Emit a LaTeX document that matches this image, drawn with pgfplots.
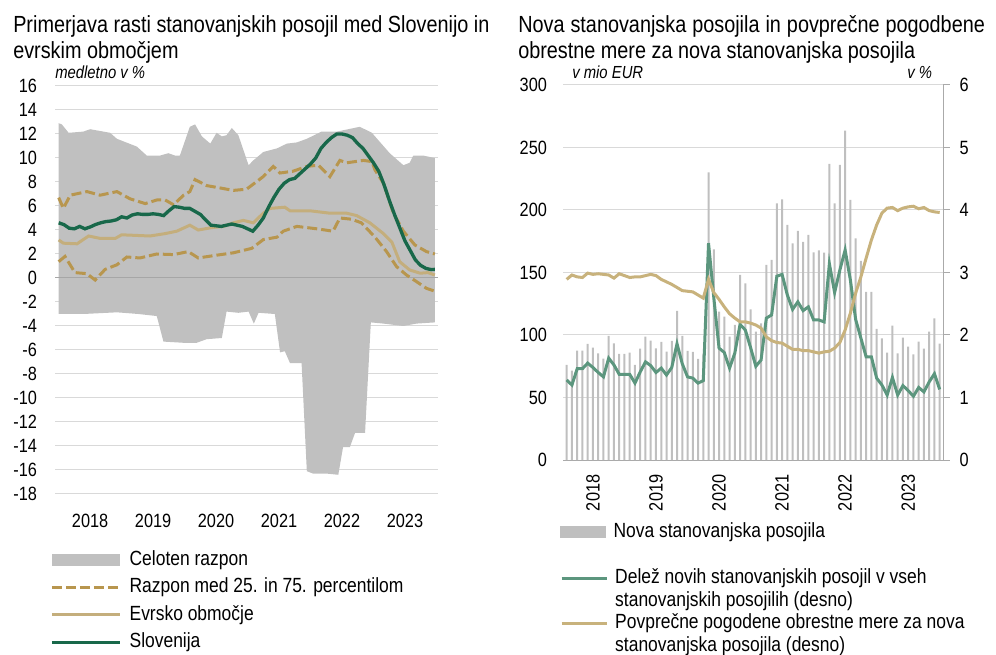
\documentclass[border=0pt]{standalone}
\usepackage{pgfplots}
\pgfplotsset{compat=1.18}
\usepgfplotslibrary{fillbetween}
\usepackage{fontspec}
\setmainfont{Liberation Sans}[FakeStretch=0.85]

\definecolor{areagray}{RGB}{192,192,192}
\definecolor{gridgray}{RGB}{217,217,217}
\definecolor{axisgray}{RGB}{170,170,170}
\definecolor{dashgold}{RGB}{184,150,78}
\definecolor{eurotan}{RGB}{196,174,124}
\definecolor{sigreen}{RGB}{24,104,74}
\definecolor{sharegreen}{RGB}{92,150,126}
\definecolor{ratetan}{RGB}{200,178,124}
\definecolor{bargray}{RGB}{191,191,191}

\newcommand{\tickfont}{\fontsize{14.4}{17}\selectfont}
\newcommand{\legfont}{\fontsize{15.4}{17.25}\selectfont}
\newcommand{\titlefont}{\fontsize{17.5}{19.5}\selectfont}
\newcommand{\unitfont}{\fontsize{13.1}{15}\selectfont\itshape}

\pgfplotsset{
  panel/.style={
    scale only axis,
    /pgf/number format/assume math mode=true,
    tick label style={font=\tickfont},
    major tick length=0pt,
    ymajorgrids,
    grid style={draw=gridgray, line width=0.75pt},
    axis line style={draw=none},
  },
  leg/.style={
    legend style={draw=none, fill=none, inner sep=0pt, column sep=5pt,
      font=\legfont, cells={anchor=base west}},
  },
  lineleg/.style={legend image code/.code={\draw[##1] (0pt,4pt) -- (#1,4pt);}},
  boxleg/.style 2 args={legend image code/.code={\fill[#2] (0pt,-0.5pt) rectangle (#1,8.5pt);}},
}

\begin{document}
\begin{tikzpicture}

% titles
\node[anchor=base west, inner sep=0pt, font=\titlefont] at (9.75pt,-24.75pt) {Primerjava rasti stanovanjskih posojil med Slovenijo in};
\node[anchor=base west, inner sep=0pt, font=\titlefont] at (9.75pt,-44.25pt) {evrskim območjem};
\node[anchor=base west, inner sep=0pt, font=\titlefont] at (388.5pt,-24.75pt) {\makebox[350pt][s]{Nova stanovanjska posojila in povprečne pogodbene}};
\node[anchor=base west, inner sep=0pt, font=\titlefont] at (388.5pt,-44.25pt) {obrestne mere za nova stanovanjska posojila};
\node[anchor=base west, inner sep=0pt, font=\unitfont] at (41.25pt,-59.25pt) {medletno v \%};
\node[anchor=base west, inner sep=0pt, font=\unitfont] at (429pt,-59.25pt) {v mio EUR};
\node[anchor=base west, inner sep=0pt, font=\unitfont] at (680.25pt,-59.25pt) {v \%};

% ---------------- left panel
\begin{axis}[panel, leg,
  at={(41.25pt,-370.5pt)}, anchor=south west,
  width=287.25pt, height=306pt,
  xmin=-0.7, xmax=72.3, ymin=-18, ymax=16,
  ytick={-18,-16,...,16},
  xtick={6,18,30,42,54,66}, xticklabels={2018,2019,2020,2021,2022,2023},
  yticklabel style={xshift=-10pt},
  xticklabel style={yshift=-11.5pt},
  legend style={at={(axis description cs:-0.013,-0.135)}, anchor=north west,
    row sep=4.6pt, nodes={inner sep=1pt, text height=11pt, text depth=3pt}},
]
\addplot[name path=top, draw=none, forget plot] coordinates {
(0,12.9) (0.6,12.8) (1.9,12.1) (4.7,12.2) (6.0,12.4) (9.8,12.1) (11.1,11.6)
(14.9,10.95) (16.8,10.2) (19.3,10.2) (20.9,10.4) (22.2,10.2) (23.1,10.2)
(25.0,12.6) (26.0,12.8) (27.3,11.8) (28.9,11.2) (30.1,12.1) (31.1,11.8)
(32.0,11.9) (33.0,12.5) (34.25,11.9) (36.2,9.4) (37.1,9.8) (39.0,10.5)
(41.6,10.8) (43.5,11.2) (45.4,11.3) (47.3,11.6) (50.1,12.2) (53.0,12.2)
(57.4,12.6) (59.7,12.1) (63.1,10.4) (65.7,9.4) (66.9,9.6) (67.6,10.2)
(69.5,10.2) (71.7,10.0)};
\addplot[name path=bot, draw=none, forget plot] coordinates {
(0,-3.0) (4.7,-3.0) (11.1,-2.86) (15.2,-3.0) (18.7,-3.17) (19.97,-5.3)
(23.8,-5.4) (26.3,-5.4) (28.2,-5.1) (31.1,-5.0) (32.0,-2.8) (34.25,-2.9)
(36.2,-2.8) (37.2,-3.8) (38.1,-2.9) (41.2,-3.0) (42.2,-6.2) (43.1,-6.1)
(44.1,-7.1) (46.3,-7.1) (47.3,-16.1) (48.5,-16.3) (51.1,-16.3) (53.3,-16.4)
(54.2,-14.1) (55.5,-14.1) (56.5,-12.9) (58.4,-12.9) (59.5,-3.7) (61.9,-3.8)
(65.7,-4.0) (68.2,-3.8) (71.7,-3.7)};
\addplot[fill=areagray, draw=none, boxleg={51pt}{areagray}]
  fill between[of=top and bot];
\addlegendentry{Celoten razpon}
\addplot[gray!70, line width=0.75pt, forget plot] coordinates {(-0.7,0) (72.3,0)};

\addplot[dashgold, line width=2.25pt, dash pattern=on 7.5pt off 3pt, lineleg=51pt] coordinates {
(0,6.7) (0.9,5.8) (2.2,6.9) (5.4,7.2) (7.9,6.9) (11.1,7.2) (13.6,6.6)
(16.5,6.2) (18.7,6.5) (20.3,6.5) (21.9,6.1) (23.8,6.9) (25,7.2) (26,8.2)
(28.2,7.7) (30.8,7.5) (33.3,7.3) (35.8,7.4) (39,8.45) (40.9,9.3) (42.2,8.75)
(44.7,8.9) (47.3,9.3) (49.5,9.4) (51.7,8.45) (53.6,9.8) (54.9,9.6) (58.1,9.8)
(59.7,9.7) (60.3,9.0) (61.9,7.9) (63.8,5.4) (65.7,3.9) (67.9,2.75) (70.1,2.2)
(71.7,2.0)};
\addlegendentry{Razpon med 25. in 75. percentilom}
\addplot[dashgold, line width=2.25pt, dash pattern=on 7.5pt off 3pt, forget plot] coordinates {
(0,1.36) (1.2,1.8) (3.1,0.45) (5.4,0.36) (6.95,-0.17) (8.86,0.72) (11.1,1.1)
(13,1.75) (15.5,1.67) (18.7,2.0) (21.9,1.95) (24.7,2.2) (26.6,1.67) (30.1,1.9)
(33.3,2.1) (36.8,2.47) (39,3.2) (41.6,3.4) (42.8,3.9) (45.4,4.3) (49.2,4.1)
(52.3,3.9) (53.6,5.0) (55.8,4.9) (57.7,4.6) (60.3,3.4) (62.5,2.2) (64.4,0.95)
(66.3,0.25) (68.2,-0.3) (70.1,-0.86) (71.7,-1.1)};

\addplot[eurotan, line width=2.25pt, lineleg=51pt] coordinates {
(0,3.17) (0.9,2.9) (3.5,2.85) (5.7,3.5) (7.9,3.3) (10.8,3.3) (12,3.6)
(17.4,3.5) (20.3,3.7) (22.5,3.9) (25,4.4) (26.6,4.0) (29.2,4.2) (31.4,4.3)
(33.3,4.6) (35.2,4.8) (37.1,4.6) (39,5.4) (40.3,5.8) (43.1,5.9) (44.1,5.6)
(47.9,5.6) (51.7,5.4) (54.9,5.4) (56.8,5.2) (59.3,4.6) (61.9,3.7) (63.5,3.0)
(65.0,1.36) (66.9,0.67) (68.9,0.4) (70.4,0.45) (71.7,0.25)};
\addlegendentry{Evrsko območje}

\addplot[sigreen, line width=2.5pt, lineleg=51pt] coordinates {
(0,4.6) (1,4.45) (2,4.15) (3,4.1) (4,4.3) (5,4.1) (6,4.25) (7,4.45) (8,4.6)
(9,4.7) (10,4.75) (11,4.85) (12,5.1) (13,5.0) (14,5.25) (15,5.35) (16,5.3)
(17,5.3) (18,5.35) (19,5.3) (20,5.2) (21,5.6) (22,5.95) (23,5.9) (24,5.8)
(25,5.8) (26,5.55) (27,5.3) (28,4.85) (29,4.4) (30,4.35) (31,4.3) (32,4.4)
(33,4.5) (34,4.4) (35,4.3) (36,4.1) (37,3.9) (38,4.4) (39,5.0) (40,5.9)
(41,6.7) (42,7.4) (43,7.9) (44,8.2) (45,8.3) (46,8.7) (47,9.1) (48,9.5)
(49,10.0) (50,10.8) (51,11.3) (52,11.7) (53,12.0) (54,12.0) (55,11.9)
(56,11.7) (57,11.2) (58,10.8) (59,10.2) (60,9.6) (61,8.9) (62,7.8) (63,6.5)
(64,5.3) (65,4.2) (66,3.1) (67,2.3) (68,1.5) (69,1.05) (70,0.8) (71,0.7)
(71.7,0.72)};
\addlegendentry{Slovenija}
\end{axis}

% ---------------- right panel: bars (left scale)
\begin{axis}[panel, leg,
  at={(422.25pt,-345pt)}, anchor=south west,
  width=285pt, height=281.25pt,
  xmin=-0.7, xmax=71.63, ymin=0, ymax=300,
  ytick={0,50,...,300},
  extra y ticks={0}, extra y tick labels={},
  extra y tick style={grid style={draw=axisgray, line width=0.75pt}},
  xtick={5,17,29,41,53,65}, xticklabels={2018,2019,2020,2021,2022,2023},
  xticklabel style={yshift=-7.5pt, rotate=90, anchor=east},
  yticklabel style={xshift=-8.5pt},
  legend style={at={(axis description cs:-0.008,-0.189)}, anchor=west,
    nodes={inner sep=1pt}},
]
\addplot[ybar, bar width=1.5pt, bar shift=0pt, fill=bargray, draw=none,
  boxleg={34pt}{bargray}]
  coordinates {
(0,76) (1,71.5) (2,87.5) (3,87.5) (4,92.8) (5,89.9) (6,85.3) (7,81) (8,99.2)
(9,93.3) (10,84.8) (11,84.8) (12,85.9) (13,76) (14,89.1) (15,98.7) (16,95.5)
(17,89.3) (18,94.4) (19,86.7) (20,95.2) (21,119.2) (22,99.2) (23,87.2)
(24,86.4) (25,80.8) (26,85) (27,230) (28,168.5) (29,118.7) (30,114.7)
(31,98.7) (32,108) (33,148) (34,141.3) (35,120.5) (36,102.7) (37,109.3)
(38,156) (39,160) (40,205.3) (41,208.5) (42,188) (43,173.3) (44,183.2)
(45,174.4) (46,180) (47,166.1) (48,167.7) (49,165.9) (50,236.8) (51,205.3)
(52,236) (53,263.5) (54,208) (55,177.3) (56,159.2) (57,134.4) (58,134.4)
(59,104.8) (60,97.3) (61,85.9) (62,107.5) (63,85.3) (64,97.9) (65,90.7)
(66,84.5) (67,94.7) (68,89.1) (69,102.7) (70,113.3) (71,93.1)};
\addlegendentry{Nova stanovanjska posojila}
\end{axis}

% ---------------- right panel: lines (right scale)
\begin{axis}[panel, leg,
  at={(422.25pt,-345pt)}, anchor=south west,
  width=285pt, height=281.25pt,
  xmin=-0.7, xmax=71.63, ymin=0, ymax=6,
  ytick={0,1,...,6}, ymajorgrids=false, xtick=\empty,
  axis x line=none, axis y line*=right,
  y axis line style={draw=axisgray, line width=0.75pt, -},
  ytick style={draw=axisgray, line width=0.75pt},
  major tick length=5pt, tick align=outside,
  yticklabel style={xshift=4pt},
  legend style={at={(axis description cs:-0.008,-0.286)}, anchor=north west,
    row sep=0pt, nodes={inner sep=0pt, text height=12pt, text depth=22pt}},
]
\addplot[sharegreen, line width=2.25pt, lineleg=34pt] coordinates {
(0,1.28) (1,1.2) (2,1.46) (3,1.46) (4,1.55) (5,1.48) (6,1.40) (7,1.33)
(8,1.63) (9,1.52) (10,1.37) (11,1.37) (12,1.37) (13,1.23) (14,1.41) (15,1.57)
(16,1.51) (17,1.40) (18,1.47) (19,1.36) (20,1.48) (21,1.86) (22,1.54)
(23,1.33) (24,1.31) (25,1.23) (26,1.27) (27,3.47) (28,2.6) (29,1.79)
(30,1.72) (31,1.47) (32,1.71) (33,2.17) (34,2.08) (35,1.8) (36,1.5) (37,1.6)
(38,2.27) (39,2.32) (40,2.94) (41,2.97) (42,2.64) (43,2.41) (44,2.53)
(45,2.39) (46,2.45) (47,2.24) (48,2.24) (49,2.21) (50,3.14) (51,2.68)
(52,3.04) (53,3.36) (54,2.88) (55,2.25) (56,1.95) (57,1.65) (58,1.65)
(59,1.31) (60,1.2) (61,1.04) (62,1.32) (63,1.04) (64,1.19) (65,1.11)
(66,1.02) (67,1.16) (68,1.09) (69,1.25) (70,1.38) (71,1.13)};
\addlegendentry{\begin{tabular}[t]{@{}l@{}}Delež novih stanovanjskih posojil v vseh\\stanovanjskih posojilih (desno)\end{tabular}}
\addplot[ratetan, line width=2.25pt, lineleg=34pt] coordinates {
(0,2.89) (1,2.96) (2,2.93) (3,2.92) (4,2.99) (5,2.97) (6,2.98) (7,2.97)
(8,2.96) (9,2.91) (10,2.98) (11,2.95) (12,2.92) (13,2.93) (14,2.93) (15,2.95)
(16,2.97) (17,2.95) (18,2.89) (19,2.85) (20,2.81) (21,2.76) (22,2.71)
(23,2.70) (24,2.69) (25,2.64) (26,2.59) (27,2.89) (28,2.68) (29,2.57)
(30,2.45) (31,2.34) (32,2.27) (33,2.21) (34,2.21) (35,2.19) (36,2.16)
(37,2.11) (38,1.97) (39,1.91) (40,1.88) (41,1.87) (42,1.82) (43,1.77)
(44,1.77) (45,1.75) (46,1.75) (47,1.73) (48,1.71) (49,1.73) (50,1.74)
(51,1.79) (52,1.88) (53,2.08) (54,2.35) (55,2.67) (56,2.93) (57,3.23)
(58,3.52) (59,3.76) (60,3.95) (61,4.03) (62,4.04) (63,3.99) (64,4.03)
(65,4.05) (66,4.06) (67,4.02) (68,4.04) (69,3.99) (70,3.97) (71,3.96)};
\addlegendentry{\begin{tabular}[t]{@{}l@{}}Povprečne pogodene obrestne mere za nova\\stanovanjska posojila (desno)\end{tabular}}
\end{axis}

\pgfresetboundingbox
\useasboundingbox (0pt,0pt) rectangle (747pt,-491.25pt);
\end{tikzpicture}
\end{document}
